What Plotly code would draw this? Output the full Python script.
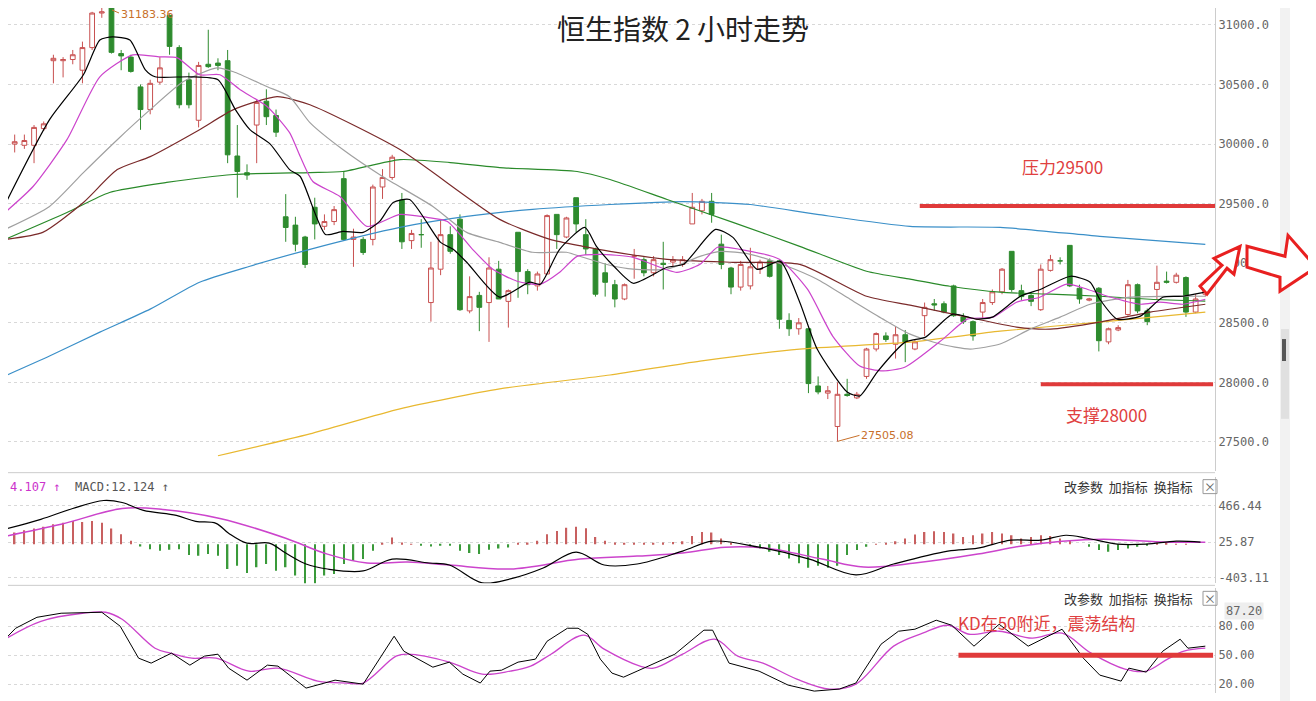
import plotly.graph_objects as go

# ---------------- data ----------------
opens  = [29810,30000,29990,29990,30130,30700,30700,30710,30620,30810,31100,31180,30760,30730,30480,30290,30520,31080,30810,30540,
          30200,30670,30680,30700,29900,29760,30160,30360,30240,29390,29320,29220,29470,29310,29350,29710,29200,29200,29200,29640,
          29720,29530,29190,29240,28670,28950,29240,29370,28600,28730,28670,28950,28680,29260,28930,28810,28910,29410,29220,29550,
          29240,29120,28920,28820,28700,29060,29030,28920,29000,29010,28990,29330,29440,29520,29160,28960,28800,28810,28950,29020,
          29020,28520,28450,28450,27970,27910,27630,27900,27870,28050,28280,28390,28320,28400,28280,28560,28660,28660,28810,28550,
          28510,28590,28670,28760,29100,28770,28730,28610,28940,29020,29150,28790,28690,28790,28340,28440,28570,28820,28600,28780,
          28850,28840,28880,28590,28740]
closes = [30010,30020,30030,30140,30170,30720,30710,30750,30810,31100,31110,30770,30740,30610,30290,30510,30640,30820,30330,30330,
          30660,30650,30660,29910,29770,29740,30350,30230,30100,29300,29160,28990,29330,29350,29450,29200,29220,29090,29640,29720,
          29890,29180,29250,29240,28960,29240,29100,28610,28720,28630,28960,28700,28770,28930,28820,28910,29400,29240,29380,29330,
          29120,28740,28840,28700,28820,29060,28920,29030,28990,29030,29030,29470,29520,29410,28990,28800,28990,28970,29010,28890,
          28530,28450,28500,27990,27920,27930,27900,27890,27900,28280,28410,28360,28400,28340,28340,28630,28650,28590,28560,28510,
          28390,28670,28760,28950,28780,28720,28680,28950,29030,29020,28810,28700,28700,28350,28450,28460,28820,28600,28510,28840,
          28840,28900,28590,28700,28770]
highs  = [30050,30080,30080,30160,30190,30750,30730,30790,30860,31110,31170,31183,30790,30750,30500,30540,30730,31090,30830,30600,
          30690,30960,30720,30790,30160,29830,30370,30460,30290,29580,29390,29230,29550,29410,29480,29770,29290,29220,29660,29790,
          29910,29590,29280,29370,29180,29370,29310,29410,28890,28760,29050,29020,28780,29260,28950,28930,29410,29410,29390,29550,
          29370,29130,29000,28860,28830,29120,29050,29060,29180,29060,29060,29590,29540,29590,29240,28970,29020,29130,29030,29040,
          29030,28580,28540,28450,28050,27970,28000,28030,27920,28290,28420,28420,28470,28440,28360,28670,28700,28680,28820,28580,
          28520,28700,28780,28960,29100,28820,28740,28990,29070,29050,29150,28820,28710,28800,28460,28480,28860,28830,28620,28980,
          28930,28920,28890,28740,28790]
lows   = [29740,29930,29960,29840,30110,30510,30560,30670,30510,30790,31060,30760,30620,30600,30120,30250,30500,30750,30300,30300,
          30140,30640,30620,29840,29550,29700,29840,30160,30060,29180,29100,28960,29200,29280,29320,29200,28970,29070,29150,29540,
          29700,29120,29120,29130,28510,28900,29080,28600,28580,28430,28340,28700,28460,28710,28740,28770,28910,29120,29210,29260,
          29070,28720,28720,28630,28690,28870,28890,28890,28780,28970,28970,29330,29410,29340,28950,28740,28770,28780,28910,28880,
          28450,28390,28400,27910,27900,27860,27505,27880,27860,28030,28260,28340,28200,28170,28270,28390,28600,28580,28550,28490,
          28350,28540,28650,28740,28760,28690,28640,28600,28930,28990,28800,28660,28680,28260,28320,28430,28560,28580,28480,28700,
          28830,28830,28550,28580,28720]

ma5_i  = [0,4.6,8.1,9.8,11.1,12.9,14.5,15.5,19.1,22,23.8,25.3,27.4,29.4,30.5,33.1,34.9,37,38.7,40.1,41.8,45,46.3,47.7,51.1,54.2,55.3,
          57.3,59.9,61.1,63,64.9,68.4,70.1,73.4,75.2,77.7,80.1,82.1,83.9,87,88.3,90.1,93,95.1,97.9,100.4,102,104.9,107,110.1,112.1,
          113.1,114.9,117.3,119.6,121.7,124]
ma5_v  = [29493,30205,30582,30874,30900,30874,30623,30565,30565,30540,30289,30121,30000,29786,29728,29242,29267,29259,29351,29510,
          29535,29175,29117,29008,28715,28841,28824,29117,29301,29142,28966,28832,28966,28991,29284,29217,28949,29016,28673,28280,
          27920,27886,28087,28338,28380,28573,28531,28548,28723,28782,28891,28841,28698,28531,28556,28715,28723,28757]
ma10_i = [0,2.9,6.4,9.8,13.2,16,17.8,20.1,22.2,24.3,27.1,29.4,30.5,31.8,34.6,37.4,40.8,43.6,45.7,48.3,50.4,52.9,55.3,57.3,59.1,61.5,
          64.9,69.4,71.8,73.6,75.9,80,82.9,85.5,88.3,90.7,93,96.9,99.4,102.1,104.5,106.9,109.7,111.8,113.9,117.3,119.3,121.7,124]
ma10_v = [29426,29644,30037,30565,30749,30732,30724,30582,30582,30456,30314,30096,29895,29686,29560,29309,29410,29385,29351,29117,
          28949,28849,28824,28924,29058,29075,29050,28924,28991,29134,29117,29033,28782,28389,28137,28096,28129,28363,28531,28548,
          28673,28715,28824,28782,28723,28656,28673,28656,28698]
ma20_i = [0,4.6,8.1,11.6,15,18.4,21.9,23.6,27.1,29.4,31.5,34.9,39,44.2,47.7,51.1,54.5,58,59.7,62.5,64.9,68.4,71.8,73.9,77,80.8,83.9,
          87.3,90.7,93.5,96.6,99.7,102.8,105.9,109,112.1,116.2,120,124]
ma20_v = [29284,29477,29761,30037,30289,30523,30640,30607,30481,30398,30180,29954,29728,29477,29259,29175,29092,29092,29050,28983,
          28950,28950,29058,29100,29075,28975,28866,28698,28531,28405,28322,28280,28322,28447,28548,28656,28715,28723,28723]
ma30_i = [0,3.9,8.1,11.6,15,20.1,23.6,28.1,31.5,40.8,51.1,56.3,59.7,62.5,68.4,75.2,82.1,89,93.5,99.4,104.5,108,113.1,118.3,124]
ma30_v = [29200,29259,29510,29786,29895,30121,30289,30398,30330,29954,29368,29200,29142,29100,29033,29008,28991,28723,28648,28548,
          28464,28447,28506,28590,28656]
ma60_i = [0,6.4,10.8,16.7,23.6,31.5,34.9,40.8,46,51.1,59.1,62.5,68.4,75.2,82.1,89,93.5,97.6,102.8,108,113.1,118.3,124]
ma60_v = [29200,29426,29594,29678,29745,29761,29770,29870,29845,29803,29770,29703,29535,29343,29142,28933,28866,28807,28757,28740,
          28723,28698,28682]
ma120_i = [0,4.6,9.8,15,20.1,25.3,31.5,40.8,47.7,54.5,62.5,70,77,83.9,93.5,102.8,113.1,124]
ma120_v = [28054,28221,28422,28615,28841,28975,29117,29301,29393,29452,29493,29518,29493,29410,29309,29301,29226,29159]
ma250_i = [22,31.5,40.8,51.1,62.5,71.8,82.1,93.5,102.8,113.1,124]
ma250_v = [27384,27568,27778,27945,28062,28179,28280,28338,28430,28506,28590]

macd_hist = [119,139,167,187,210,238,258,278,266,278,258,187,119,40,
             -28,-60,-79,-67,-60,-131,-139,-119,-139,-298,-258,-345,-278,-238,-318,-278,-377,-496,-476,-377,-357,-238,-198,-179,-79,
             10,79,20,5,-10,-28,-20,-20,-79,-107,-119,-67,-52,-40,10,20,40,119,159,198,210,190,87,40,20,
             10,10,12,15,20,25,36,99,147,139,67,8,0,-32,-52,-91,-131,-171,-230,-282,-258,-282,-258,-131,-71,-32,
             5,8,36,67,115,147,155,147,127,87,107,127,147,127,107,67,87,107,99,67,48,0,-32,-71,-91,-71,-52,-32,-12,8,
             20,5,5,0,0]
dif_i = [0,3.7,7,10.2,12.1,14.3,17.7,19.7,21.8,23.1,25,27.3,29,31.1,33.3,37,40,43.8,45.9,49.3,52.2,55.6,59,61.9,65.3,70,73.1,77.9,
         83.1,87.9,91.8,97.4,100.5,103.9,107,109.6,111.8,114.9,117.9,121,123.5]
dif_v = [179,298,428,524,500,405,345,274,250,131,12,12,-107,-238,-298,-321,-179,-226,-250,-464,-417,-286,-95,-250,-238,-83,36,-36,
         -179,-369,-238,-83,-48,48,48,107,71,0,0,36,24]
dea_i = [0,5.8,12.1,16.3,22.2,29,33.3,37.4,41.6,45.9,52.2,59.4,65.3,70,74.4,78.7,84.4,88.7,94,100.5,104.9,109.2,113.5,120,124]
dea_v = [95,238,428,417,309,71,-119,-226,-214,-250,-298,-179,-143,-107,-36,-48,-179,-274,-226,-119,-24,36,60,24,24]

k_i = [0,1.1,3.3,5.8,10,11.9,13.8,15.1,17.2,19.1,20.6,22,23.1,25,27.1,28.2,31.1,34.1,37,40.2,41.2,44.2,45.9,47.3,49.1,50.1,51.3,53,
       54.8,56,58.1,59.2,60.2,61.5,62.7,63.9,65.3,69.2,72.2,73.1,74.8,77.9,80.9,83.6,86.2,87.9,90.5,92.3,94,96.2,97.8,100.1,102.7,
       105.7,109.2,111.4,113.1,115.3,116.1,117.9,119.6,121.4,122.2,124]
k_v = [66.5,77.8,89.1,93.3,94.3,79.9,46.9,41.8,52.1,39.7,49.0,51.0,36.6,24.2,39.7,38.7,16.0,24.2,20.1,69.6,54.1,37.6,42.8,30.4,21.2,
       33.5,34.5,42.8,45.9,64.4,77.8,77.8,71.6,45.9,31.5,27.3,33.5,51.0,75.8,75.8,41.8,33.5,19.1,12.9,15.0,21.2,61.3,74.7,76.8,86.1,
       80.9,59.3,81.9,59.3,76.8,46.9,29.4,23.2,36.6,32.5,54.1,66.5,57.2,59.3]
d_i = [0,3.7,8,10.4,12.1,15.5,17.1,19.3,21.8,25.2,28.2,32.3,35.3,37,40.4,41.6,45.9,49.3,52.2,54.3,56.4,59.8,61.9,65.6,67,70,73.3,
       75.7,78.3,81.8,85.2,87.9,91.8,94.8,97.4,99.6,102.7,106.1,109.2,112.2,115.7,117.9,120.1,121.8,124]
d_v = [66.5,85.0,93.3,94.3,87.1,57.2,52.1,46.9,46.9,33.5,36.6,23.2,21.2,21.2,49.0,51.0,42.8,30.4,33.5,38.7,51.0,70.6,56.2,38.7,36.6,
       51.0,66.5,49.0,41.8,25.3,15.0,20.1,59.3,72.7,80.9,71.6,74.7,67.5,72.7,52.1,35.6,33.5,45.9,54.1,57.2]

price_ticks = [27500, 28000, 28500, 29000, 29500, 30000, 30500, 31000]
macd_ticks = [-403.11, 25.87, 466.44]
kd_ticks = [20, 50, 80]
resistance = 29480
support = 27985
kd_level = 50

# ---------------- figure ----------------
W, H = 1316, 701
OFF = 8  # page body margin
px = lambda v: (v - OFF) / W
py = lambda v: 1 - (v - OFF) / H
idx = list(range(len(closes)))

fig = go.Figure()
fig.add_trace(go.Candlestick(x=idx, open=opens, high=highs, low=lows, close=closes,
    increasing=dict(line=dict(color="#c85050", width=1), fillcolor="white"),
    decreasing=dict(line=dict(color="#2e8b2e", width=1), fillcolor="#2e8b2e"),
    whiskerwidth=0, xaxis="x", yaxis="y", hoverinfo="skip"))
for xs, ys, c in [(ma250_i, ma250_v, "#e8b830"), (ma120_i, ma120_v, "#3a8fc8"), (ma60_i, ma60_v, "#2a8a2a"),
                  (ma30_i, ma30_v, "#7a2a2a"), (ma20_i, ma20_v, "#a0a0a0"), (ma10_i, ma10_v, "#cc44cc"),
                  (ma5_i, ma5_v, "#000000")]:
    fig.add_trace(go.Scatter(x=xs, y=ys, mode="lines", line=dict(color=c, width=1.2, shape="spline", smoothing=0.6),
                             xaxis="x", yaxis="y", hoverinfo="skip"))

fig.add_trace(go.Bar(x=idx, y=macd_hist, width=0.15,
                     marker=dict(color=["#c86060" if v >= 0 else "#3a9a3a" for v in macd_hist], line=dict(width=0)),
                     xaxis="x2", yaxis="y2", hoverinfo="skip"))
fig.add_trace(go.Scatter(x=dea_i, y=dea_v, mode="lines", line=dict(color="#cc44cc", width=1.5, shape="spline"),
                         xaxis="x2", yaxis="y2"))
fig.add_trace(go.Scatter(x=dif_i, y=dif_v, mode="lines", line=dict(color="#000000", width=1.2, shape="spline"),
                         xaxis="x2", yaxis="y2"))
fig.add_trace(go.Scatter(x=d_i, y=d_v, mode="lines", line=dict(color="#cc44cc", width=1.3, shape="spline"),
                         xaxis="x3", yaxis="y3"))
fig.add_trace(go.Scatter(x=k_i, y=k_v, mode="lines", line=dict(color="#000000", width=1),
                         xaxis="x3", yaxis="y3"))

xr = [(OFF - 5) / 9.68, 125.0]
xd = [0, px(1215)]
axfont = dict(family="DejaVu Sans Mono", size=12, color="#666")
common_x = dict(range=xr, domain=xd, visible=False, fixedrange=True)
grid = dict(showgrid=True, gridcolor="#d8d8d8", griddash="dot", zeroline=False, side="right",
            tickfont=axfont, ticks="", showline=True, linecolor="#cccccc", mirror=False)
fig.update_layout(
    width=W, height=H, margin=dict(l=0, r=0, t=0, b=0), paper_bgcolor="white", plot_bgcolor="white",
    showlegend=False, hovermode=False,
    xaxis=dict(common_x, rangeslider=dict(visible=False)),
    xaxis2=dict(common_x, anchor="y2"),
    xaxis3=dict(common_x, anchor="y3"),
    yaxis=dict(grid, domain=[py(472), 1], range=[27259, 31000 + (25 - OFF) * 8.37], tickvals=price_ticks,
               ticktext=[f"{v:.1f}" for v in price_ticks], anchor="x"),
    yaxis2=dict(grid, domain=[py(585), py(478)], range=[-470, 810], tickvals=macd_ticks,
                ticktext=[f"{v:.2f}" for v in macd_ticks], anchor="x2"),
    yaxis3=dict(grid, domain=[py(695), py(590)], range=[10.9, 119], tickvals=kd_ticks,
                ticktext=[f"{v:.2f}" for v in kd_ticks], anchor="x3"),
    font=dict(family="Noto Sans CJK SC"),
)

shapes = []
for yy in (474, 587):
    shapes.append(dict(type="line", xref="paper", yref="paper", x0=0, x1=px(1215), y0=py(yy), y1=py(yy),
                       line=dict(color="#cccccc", width=1)))
shapes.append(dict(type="line", xref="x", yref="y", x0=94.5, x1=125, y0=resistance, y1=resistance,
                   line=dict(color="#e03a3a", width=4)))
shapes.append(dict(type="line", xref="x", yref="y", x0=107, x1=124.8, y0=support, y1=support,
                   line=dict(color="#e03a3a", width=4)))
shapes.append(dict(type="line", xref="x3", yref="y3", x0=98.5, x1=124.8, y0=kd_level, y1=kd_level,
                   line=dict(color="#e03a3a", width=5)))
shapes.append(dict(type="rect", xref="paper", yref="paper", x0=px(1280), x1=px(1290), y0=0, y1=1,
                   fillcolor="#f2f2f2", line=dict(width=0)))
shapes.append(dict(type="rect", xref="paper", yref="paper", x0=px(1281), x1=px(1289), y0=py(420), y1=py(330),
                   fillcolor="#e0e0e0", line=dict(width=0)))
shapes.append(dict(type="rect", xref="paper", yref="paper", x0=px(1282), x1=px(1286), y0=py(362), y1=py(340),
                   fillcolor="#555", line=dict(width=0)))
def poly(pts):
    return "M " + " L ".join(f"{px(a)},{py(b)}" for a, b in pts) + " Z"
shapes.append(dict(type="path", xref="paper", yref="paper",
                   path=poly([(1200, 287), (1222, 266), (1214, 259), (1240, 247), (1234, 275), (1227, 269), (1207, 295)]),
                   line=dict(color="#e82020", width=3), fillcolor="white"))
shapes.append(dict(type="path", xref="paper", yref="paper",
                   path=poly([(1247, 247), (1285, 257), (1288, 236), (1316, 268), (1280, 292), (1280, 278), (1247, 268)]),
                   line=dict(color="#e82020", width=3), fillcolor="white"))
for yy in (488, 600):
    shapes.append(dict(type="rect", xref="paper", yref="paper", x0=px(1203), x1=px(1217), y0=py(yy + 7), y1=py(yy - 7),
                       line=dict(color="#999", width=1)))
shapes.append(dict(type="line", xref="paper", yref="paper", x0=px(112), x1=px(119), y0=py(10), y1=py(13),
                   line=dict(color="#c8702a", width=1)))
fig.update_layout(shapes=shapes)

def pa(x, y, text, size, color, xa="center", family="Noto Sans CJK SC", **kw):
    return dict(xref="paper", yref="paper", x=px(x), y=py(y), text=text, showarrow=False, xanchor=xa,
                yanchor="middle", font=dict(size=size, color=color, family=family), **kw)

ann = []
ann.append(pa(683, 28, "恒生指数 2 小时走势", 28, "#222"))
ann.append(pa(119, 15, "31183.36", 11, "#c8702a", xa="left", family="DejaVu Sans"))
ann.append(dict(xref="x", yref="y", x=86, y=27505, text="27505.08", showarrow=True, arrowhead=0, arrowcolor="#c8702a",
                ax=22, ay=-6, xanchor="left", yanchor="middle", font=dict(size=11, color="#c8702a", family="DejaVu Sans")))
ann.append(pa(1062, 167, "压力29500", 17, "#e04040"))
ann.append(pa(1106, 416, "支撑28000", 17, "#e04040"))
ann.append(pa(1047, 624, "KD在50附近，震荡结构", 17, "#e04040"))
ann.append(pa(OFF, 488, "<span style='color:#cc33cc'>4.107 ↑</span>  <span style='color:#555'>MACD:12.124 ↑</span>",
              12, "#555", xa="left", family="DejaVu Sans Mono"))
for yy in (488, 600):
    ann.append(pa(1195, yy, "改参数  加指标  换指标", 13, "#333", xa="right"))
    ann.append(pa(1210, yy, "×", 12, "#666"))
ann.append(pa(1224, 613, "87.20", 12, "#666", xa="left", family="DejaVu Sans Mono", bgcolor="#eeeeee"))
fig.update_layout(annotations=ann)

fig.write_html("out.html", config={"displayModeBar": False})
